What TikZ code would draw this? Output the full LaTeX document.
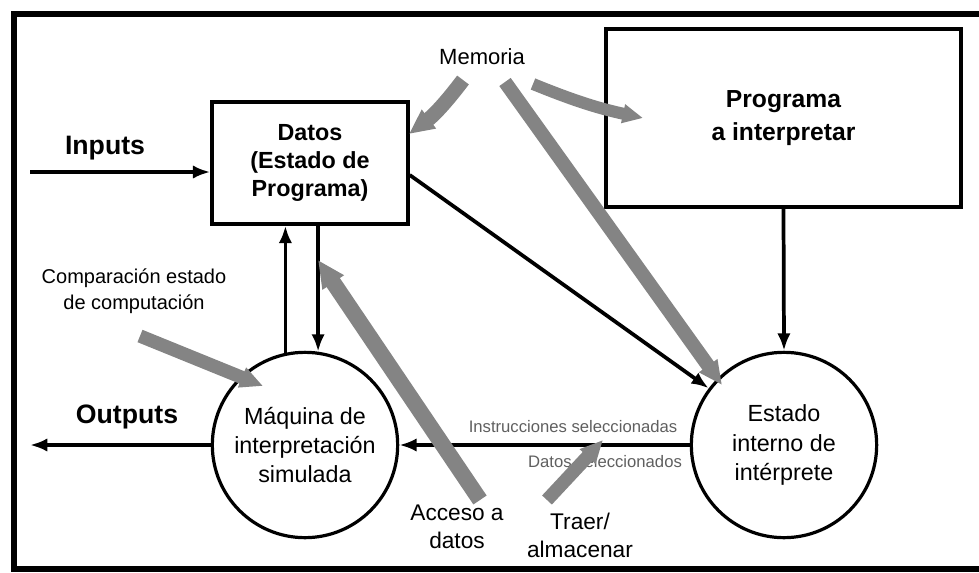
\documentclass[tikz,border=0pt]{standalone}
\usepackage{fontspec}
\setmainfont{Liberation Sans}
\usetikzlibrary{arrows.meta,calc,positioning}
\definecolor{gris}{RGB}{132,132,132}
\definecolor{grisTexto}{RGB}{95,95,95}

\begin{document}
\begin{tikzpicture}[x=0.75pt, y=-0.75pt, every node/.style={align=center}]
    \tikzset{
      caja/.style={
        draw,
        line width=2.6pt,
        inner sep=0pt
      },
      estadocirc/.style={
        draw,
        circle,
        line width=2.4pt,
        minimum size=139pt,
        inner sep=0pt,
        font=\fontsize{17.5}{22}\selectfont
      },
      etiqueta/.style={font=\fontsize{17}{21}\selectfont},
      pequena/.style={font=\fontsize{12.5}{15}\selectfont, text=grisTexto, inner sep=0pt},
      flecha/.style={line width=2.8pt, -{Latex[length=13pt,width=10pt]}},
      flechagris/.style={draw=gris, line width=#1, -{Triangle[length=0pt 1.7,width=0pt 1.5]}}
    }
    \useasboundingbox (0,0) rectangle (979,572);
    \clip (0,0) rectangle (979,572);
    \draw[line width=4.5pt] (14,14) rectangle (995,569);

    % bloques
    \node[caja, minimum width=147pt, minimum height=91.5pt, font=\bfseries\fontsize{17.5}{21}\selectfont] (datos) at (310,163) {Datos\\(Estado de\\Programa)};
    \node[caja, minimum width=266pt, minimum height=133.5pt, font=\bfseries\fontsize{18.5}{25}\selectfont] (prog) at (783.5,118) {Programa\\a interpretar};
    \node[estadocirc] (maq) at (305,445) {M\'aquina de\\interpretaci\'on\\simulada};
    \node[estadocirc] (est) at (784,445) {Estado\\interno de\\int\'erprete};

    % etiquetas
    \node[font=\bfseries\fontsize{20}{24}\selectfont] (inputs) at (105,148) {Inputs};
    \node[font=\bfseries\fontsize{20}{24}\selectfont] (outputs) at (127,417) {Outputs};
    \node[font=\fontsize{16.5}{20}\selectfont] (memoria) at (482,57) {Memoria};
    \node[font=\fontsize{15}{19.5}\selectfont] (comparacion) at (134,291) {Comparaci\'on estado\\de computaci\'on};
    \node[etiqueta] (acceso) at (457,527) {Acceso a\\datos};
    \node[etiqueta] (traer) at (580,535) {Traer/\\almacenar};
    \node[pequena] (instr) at (573,427) {Instrucciones seleccionadas};
    \node[pequena] (datsel) at (605,462) {Datos seleccionados};

    % flechas negras
    \coordinate (entrada) at (30,172);
    \coordinate (salida) at (30,445);
    \draw[flecha] (entrada) -- (entrada -| datos.west);
    \draw[flecha] (maq.west) -- (salida);
    \draw[flecha] (maq.102.5) -- (maq.102.5 |- datos.south);
    \draw[flecha] (datos.south -| maq.82.5) -- (maq.82.5);
    \draw[flecha] ($(datos.east)+(0,12)$) -- (est.143);
    \draw[flecha] (prog.south) -- (est.north);
    \draw[flecha] (est.west) -- (maq.east);

    % flechas grises
    \coordinate (m1) at (463,80);
    \coordinate (m2) at (505,82);
    \coordinate (m3) at (533,84);
    \coordinate (c1) at (140,336);
    \coordinate (a1) at (480,500);
    \coordinate (t1) at (547,500);
    \coordinate (pm1) at (409,134);
    \coordinate (pm2) at (722,385);
    \coordinate (pm3) at (643,118);
    \coordinate (pc1) at (263,386);
    \coordinate (pa1) at (318,260);
    \coordinate (pt1) at (603,440);
    \draw[flechagris=11pt] (m1) to[bend left=8] (pm1);
    \draw[flechagris=10.5pt] (m2) -- (pm2);
    \draw[flechagris=9pt] (m3) to[bend right=5] (pm3);
    \draw[flechagris=10pt] (c1) -- (pc1);
    \draw[flechagris=12pt] (a1) -- (pa1);
    \draw[flechagris=10pt] (t1) -- (pt1);
  \end{tikzpicture}
\end{document}
